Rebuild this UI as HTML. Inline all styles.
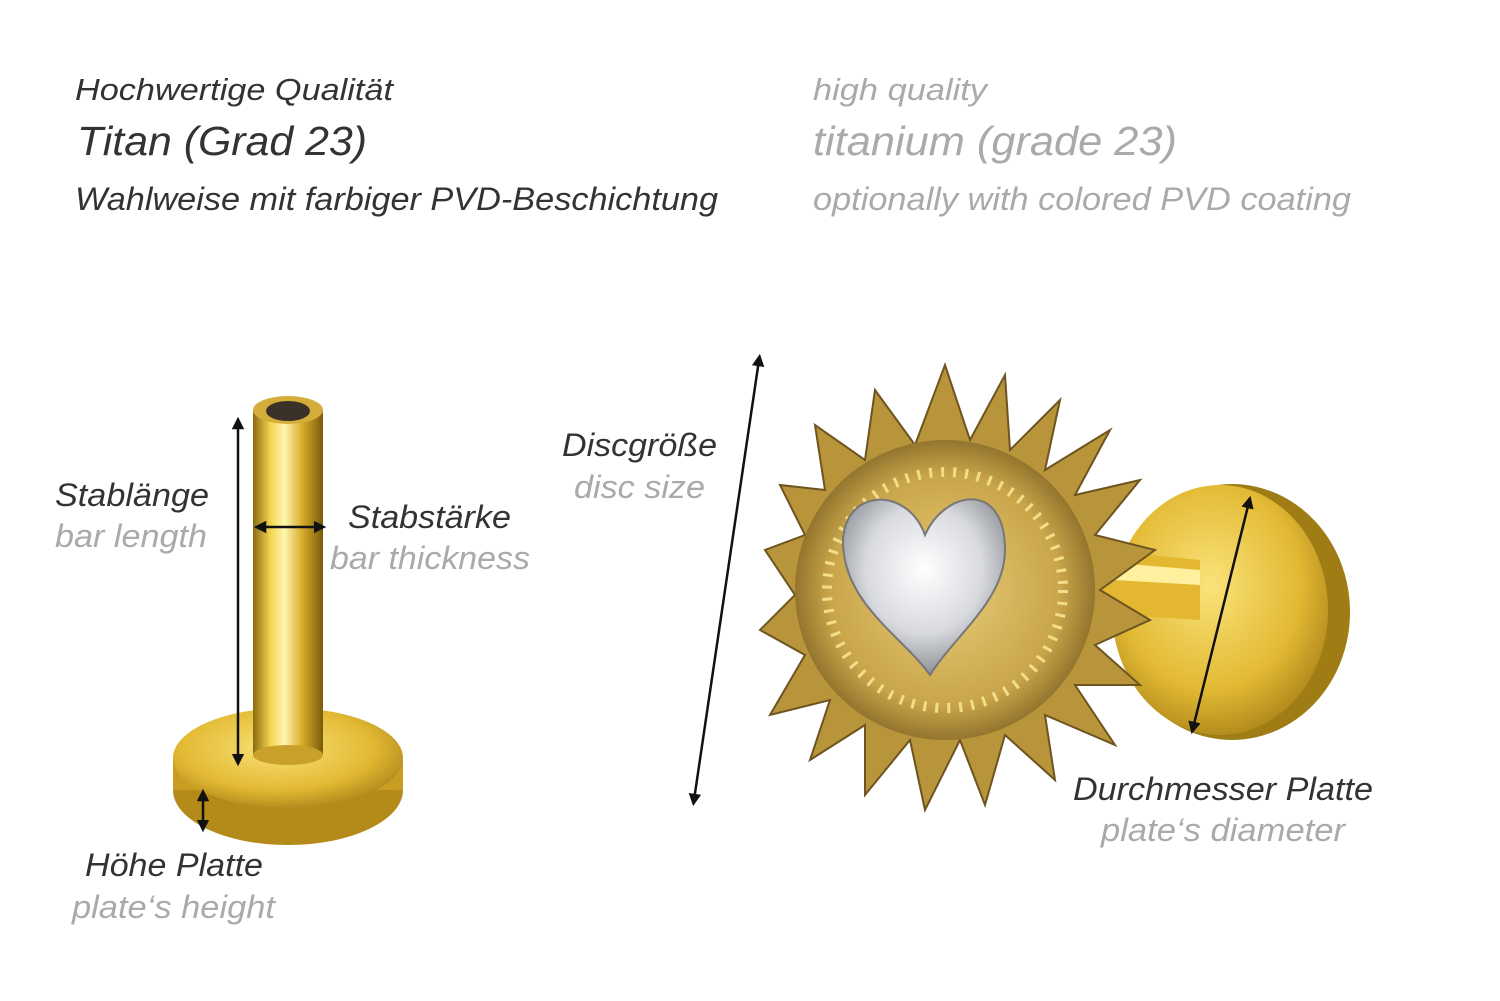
<!DOCTYPE html>
<html><head><meta charset="utf-8"><style>
body{margin:0;background:#fff;width:1500px;height:1001px;overflow:hidden}
svg{display:block}
text{font-family:"Liberation Sans",sans-serif;font-style:italic}
.d{fill:#333}.g{fill:#aaa}
</style></head><body>
<svg width="1500" height="1001" viewBox="0 0 1500 1001">
<defs>
<linearGradient id="bar" x1="0" x2="1"><stop offset="0" stop-color="#8a6a10"/><stop offset=".25" stop-color="#f4d650"/><stop offset=".45" stop-color="#fff6b0"/><stop offset=".7" stop-color="#d8ad2a"/><stop offset="1" stop-color="#7a5a08"/></linearGradient>
<radialGradient id="plate" cx=".45" cy=".4" r=".7"><stop offset="0" stop-color="#fbe37a"/><stop offset=".6" stop-color="#e2b933"/><stop offset="1" stop-color="#9c7512"/></radialGradient>
<radialGradient id="sun" cx=".5" cy=".5" r=".55"><stop offset="0" stop-color="#e8cd78"/><stop offset=".7" stop-color="#c9a54a"/><stop offset="1" stop-color="#7d6021"/></radialGradient>
<radialGradient id="gem" cx=".5" cy=".4" r=".6"><stop offset="0" stop-color="#ffffff"/><stop offset=".6" stop-color="#d8dadf"/><stop offset="1" stop-color="#8d9096"/></radialGradient>
<marker id="a" markerWidth="5" markerHeight="5" refX="2.5" refY="2.5" orient="auto-start-reverse"><path d="M0,0 L5,2.5 L0,5 Z" fill="#111"/></marker>
</defs>

<g lengthAdjust="spacingAndGlyphs">
<text x="75" y="100" font-size="31" class="d" textLength="318" lengthAdjust="spacingAndGlyphs">Hochwertige Qualität</text>
<text x="77" y="155" font-size="41" class="d" textLength="290" lengthAdjust="spacingAndGlyphs">Titan (Grad 23)</text>
<text x="75" y="210" font-size="32" class="d" textLength="643" lengthAdjust="spacingAndGlyphs">Wahlweise mit farbiger PVD-Beschichtung</text>
<text x="813" y="100" font-size="31" class="g" textLength="174" lengthAdjust="spacingAndGlyphs">high quality</text>
<text x="813" y="155" font-size="41" class="g" textLength="364" lengthAdjust="spacingAndGlyphs">titanium (grade 23)</text>
<text x="813" y="210" font-size="32" class="g" textLength="538" lengthAdjust="spacingAndGlyphs">optionally with colored PVD coating</text>
</g>

<!-- left labret -->
<ellipse cx="288" cy="790" rx="115" ry="55" fill="#b48a18"/>
<rect x="173" y="760" width="230" height="30" fill="#c99d22"/>
<ellipse cx="288" cy="758" rx="115" ry="50" fill="url(#plate)"/>
<rect x="253" y="410" width="70" height="345" fill="url(#bar)"/>
<ellipse cx="288" cy="755" rx="35" ry="10" fill="#c9a02a"/>
<ellipse cx="288" cy="410" rx="35" ry="14" fill="#d4ad3a"/>
<ellipse cx="288" cy="411" rx="22" ry="10" fill="#3a3228"/>

<!-- right back plate -->
<ellipse cx="1232" cy="612" rx="118" ry="128" fill="#a07c14"/>
<ellipse cx="1220" cy="610" rx="108" ry="125" fill="url(#plate)"/>
<path d="M1080 548 L1200 560 L1200 620 L1080 612 Z" fill="#e3b830"/>
<path d="M1080 560 L1200 570 L1200 585 L1080 578 Z" fill="#fff0a0"/>

<!-- sun disc -->
<g transform="translate(945,590)">
<g fill="#b8943a" stroke="#6e5420" stroke-width="2">
<path d="M0,-225 L25,-150 L60,-215 L65,-140 L115,-190 L100,-120 L165,-160 L130,-95 L195,-110 L150,-55 L210,-40 L155,0 L205,30 L150,55 L195,95 L130,95 L170,155 L100,125 L110,190 L60,145 L40,215 L15,150 L-20,220 L-35,150 L-80,205 L-80,135 L-135,170 L-115,110 L-175,125 L-140,65 L-185,40 L-150,5 L-180,-40 L-140,-55 L-165,-105 L-120,-100 L-130,-165 L-80,-130 L-70,-200 L-30,-145 Z"/>
</g>
<circle r="150" fill="url(#sun)"/>
<circle r="118" fill="none" stroke="#f3dd8a" stroke-width="10" stroke-dasharray="3 9"/>
<path d="M-20,-55 C-40,-110 -115,-100 -100,-30 C-90,20 -40,50 -15,85 C10,45 60,10 60,-40 C60,-110 0,-100 -20,-55 Z" fill="url(#gem)" stroke="#777" stroke-width="2"/>
</g>

<!-- arrows -->
<g stroke="#111" stroke-width="2.5" fill="none">
<line x1="238" y1="423" x2="238" y2="760" marker-start="url(#a)" marker-end="url(#a)"/>
<line x1="260" y1="527" x2="320" y2="527" marker-start="url(#a)" marker-end="url(#a)"/>
<line x1="203" y1="795" x2="203" y2="826" marker-start="url(#a)" marker-end="url(#a)"/>
<line x1="759" y1="360" x2="694" y2="800" marker-start="url(#a)" marker-end="url(#a)"/>
<line x1="1249" y1="502" x2="1193" y2="728" marker-start="url(#a)" marker-end="url(#a)"/>
</g>

<text x="55" y="506" font-size="32" class="d" textLength="154" lengthAdjust="spacingAndGlyphs">Stablänge</text>
<text x="55" y="547" font-size="32" class="g" textLength="152" lengthAdjust="spacingAndGlyphs">bar length</text>
<text x="348" y="528" font-size="32" class="d" textLength="163" lengthAdjust="spacingAndGlyphs">Stabstärke</text>
<text x="330" y="569" font-size="32" class="g" textLength="200" lengthAdjust="spacingAndGlyphs">bar thickness</text>
<text x="562" y="456" font-size="32" class="d" textLength="155" lengthAdjust="spacingAndGlyphs">Discgröße</text>
<text x="574" y="498" font-size="32" class="g" textLength="131" lengthAdjust="spacingAndGlyphs">disc size</text>
<text x="1073" y="800" font-size="32" class="d" textLength="300" lengthAdjust="spacingAndGlyphs">Durchmesser Platte</text>
<text x="1101" y="841" font-size="32" class="g" textLength="244" lengthAdjust="spacingAndGlyphs">plate‘s diameter</text>
<text x="85" y="876" font-size="32" class="d" textLength="178" lengthAdjust="spacingAndGlyphs">Höhe Platte</text>
<text x="72" y="918" font-size="32" class="g" textLength="203" lengthAdjust="spacingAndGlyphs">plate‘s height</text>
</svg>
</body></html>
